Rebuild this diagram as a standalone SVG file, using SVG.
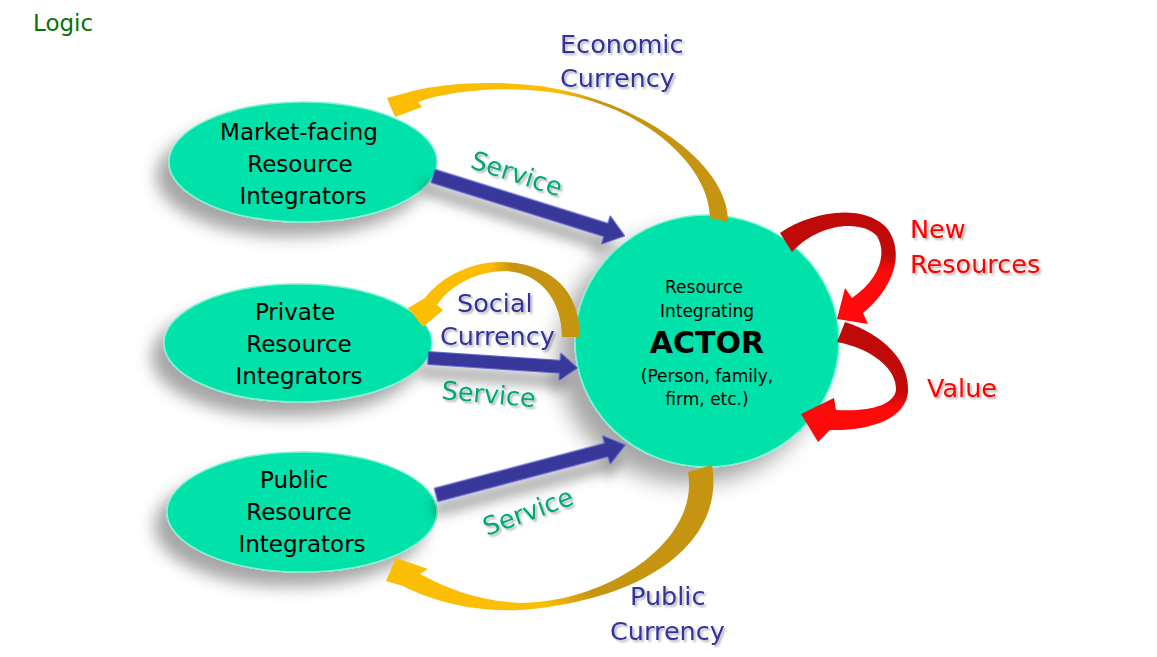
<svg xmlns="http://www.w3.org/2000/svg" width="1157" height="657" viewBox="0 0 1157 657">
<defs>
<style>
.node{fill:#00e2aa;stroke:#7ef2d4;stroke-width:1.5}
.nt{font-family:"DejaVu Sans","Verdana",sans-serif;font-size:23px;fill:#000;text-anchor:middle}
.ct{font-family:"DejaVu Sans","Verdana",sans-serif;font-size:17px;fill:#000;text-anchor:middle}
.actor{font-family:"DejaVu Sans","Verdana",sans-serif;font-size:30px;font-weight:bold;fill:#000;text-anchor:middle}
.lbl{font-family:"DejaVu Sans","Verdana",sans-serif;font-size:25.5px}
.cur{fill:#333399}
.svc{fill:#00a878}
.red{fill:#ff0000}
.blue{fill:#37379a;stroke:#6a6ad0;stroke-width:1}
</style>
<filter id="sh" x="-30%" y="-30%" width="160%" height="170%">
<feDropShadow dx="-12" dy="14" stdDeviation="8" flood-color="#000" flood-opacity="0.35"/>
</filter>
<filter id="shc" x="-30%" y="-30%" width="160%" height="170%">
<feDropShadow dx="-16" dy="16" stdDeviation="11" flood-color="#000" flood-opacity="0.35"/>
</filter>
<filter id="ash" x="-20%" y="-40%" width="140%" height="220%">
<feDropShadow dx="-6" dy="14" stdDeviation="6" flood-color="#000" flood-opacity="0.3"/>
</filter>
<filter id="tsh" x="-10%" y="-20%" width="120%" height="150%">
<feDropShadow dx="2" dy="2" stdDeviation="1" flood-color="#000" flood-opacity="0.3"/>
</filter>
<linearGradient id="gEco" gradientUnits="userSpaceOnUse" x1="720" y1="220" x2="400" y2="100">
<stop offset="0" stop-color="#c59512"/><stop offset="0.45" stop-color="#c59512"/><stop offset="0.58" stop-color="#fcbd05"/><stop offset="1" stop-color="#fcbd05"/>
</linearGradient>
<linearGradient id="gSoc" gradientUnits="userSpaceOnUse" x1="575" y1="300" x2="420" y2="300">
<stop offset="0" stop-color="#c59512"/><stop offset="0.4" stop-color="#c59512"/><stop offset="0.55" stop-color="#fcbd05"/><stop offset="1" stop-color="#fcbd05"/>
</linearGradient>
<linearGradient id="gPub" gradientUnits="userSpaceOnUse" x1="700" y1="470" x2="400" y2="580">
<stop offset="0" stop-color="#c59512"/><stop offset="0.45" stop-color="#c59512"/><stop offset="0.6" stop-color="#fcbd05"/><stop offset="1" stop-color="#fcbd05"/>
</linearGradient>
<linearGradient id="gNew" gradientUnits="userSpaceOnUse" x1="0" y1="215" x2="0" y2="320">
<stop offset="0" stop-color="#c00a0a"/><stop offset="0.38" stop-color="#c00a0a"/><stop offset="0.55" stop-color="#ff0a0a"/><stop offset="1" stop-color="#ff0a0a"/>
</linearGradient>
<linearGradient id="gVal" gradientUnits="userSpaceOnUse" x1="0" y1="325" x2="0" y2="430">
<stop offset="0" stop-color="#c00a0a"/><stop offset="0.62" stop-color="#c00a0a"/><stop offset="0.8" stop-color="#ff0a0a"/><stop offset="1" stop-color="#ff0a0a"/>
</linearGradient>
</defs>
<rect width="1157" height="657" fill="#fff"/>
<text x="33" y="31" font-family="DejaVu Sans, Verdana, sans-serif" font-size="23" fill="#0a700a">Logic</text>

<g id="nodes">
<g id="market">
<ellipse class="node" cx="303" cy="162" rx="134" ry="60" filter="url(#sh)"/>
<text class="nt" x="299" y="140">Market-facing</text>
<text class="nt" x="300" y="172">Resource</text>
<text class="nt" x="303" y="204">Integrators</text>
</g>
<g id="private">
<ellipse class="node" cx="298" cy="343" rx="134" ry="59" filter="url(#sh)"/>
<text class="nt" x="295" y="320">Private</text>
<text class="nt" x="299" y="352">Resource</text>
<text class="nt" x="299" y="384">Integrators</text>
</g>
<g id="public">
<ellipse class="node" cx="302" cy="512" rx="135" ry="60" filter="url(#sh)"/>
<text class="nt" x="294" y="488">Public</text>
<text class="nt" x="299" y="520">Resource</text>
<text class="nt" x="302" y="552">Integrators</text>
</g>
<g id="actor">
<ellipse class="node" cx="707" cy="341" rx="132" ry="126" filter="url(#shc)"/>
<text class="ct" x="704" y="293">Resource</text>
<text class="ct" x="707" y="317">Integrating</text>
<text class="actor" x="707" y="353">ACTOR</text>
<text class="ct" x="707" y="382">(Person, family,</text>
<text class="ct" x="707" y="405">firm, etc.)</text>
</g>
</g>

<g id="connectors">
<polygon class="blue" filter="url(#ash)" points="0,-7 181,-7 181,-15 201,0 181,15 181,7 0,7" transform="translate(433,176) rotate(17.35)"/>
<polygon class="blue" filter="url(#ash)" points="0,-6.5 132,-6.5 132,-14 150,0 132,14 132,6.5 0,6.5" transform="translate(428,358) rotate(3.8)"/>
<polygon class="blue" filter="url(#ash)" points="0,-7 176,-7 176,-15 196,0 176,15 176,7 0,7" transform="translate(436,495) rotate(-14.8)"/>
<path fill="url(#gEco)" d="M728,222 C730,165 640,100 540,86 C490,80 440,84 413,91 L387,98 L395,117 L422,107 L418,102 C445,92 495,86 540,91 C640,100 710,165 710,218 Z"/>
<path fill="url(#gSoc)" d="M580,337 C580,290 550,262 500,262 C470,262 440,278 425,298 L408,308 L423,327 L443,310 L437,305 C450,285 478,271 505,271 C540,272 562,300 562,337 Z"/>
<path fill="url(#gPub)" d="M712,465 C725,540 650,600 520,610 C470,612 430,600 403,586 L386,581 L396,558 L428,569 L420,574 C450,590 480,601 520,603 C610,602 700,540 688,472 Z"/>
<path fill="url(#gNew)" d="M780,233 C810,212 860,203 885,226 C905,248 897,285 863,313 L868,324 L837,319 L845,288 L852,298 C878,280 888,255 877,236 C862,220 820,222 792,252 Z"/>
<path fill="url(#gVal)" d="M845,322 C885,335 910,362 908,392 C906,418 872,431 830,430 L818,442 L801,414 L834,398 L836,410 C870,412 894,405 896,390 C897,368 870,348 837,342 Z"/>
</g>

<g id="labels" filter="url(#tsh)">
<text class="lbl cur" x="560" y="53">Economic</text>
<text class="lbl cur" x="560" y="87">Currency</text>
<text class="lbl cur" x="457" y="312">Social</text>
<text class="lbl cur" x="440" y="345">Currency</text>
<text class="lbl cur" x="630" y="605">Public</text>
<text class="lbl cur" x="610" y="640">Currency</text>
<text class="lbl red" x="910" y="238">New</text>
<text class="lbl red" x="910" y="273">Resources</text>
<text class="lbl red" x="927" y="397">Value</text>
<text class="lbl svc" text-anchor="middle" transform="translate(514,182) rotate(18)">Service</text>
<text class="lbl svc" text-anchor="middle" transform="translate(488,403) rotate(5)">Service</text>
<text class="lbl svc" text-anchor="middle" transform="translate(531,520) rotate(-20)">Service</text>
</g>
</svg>
